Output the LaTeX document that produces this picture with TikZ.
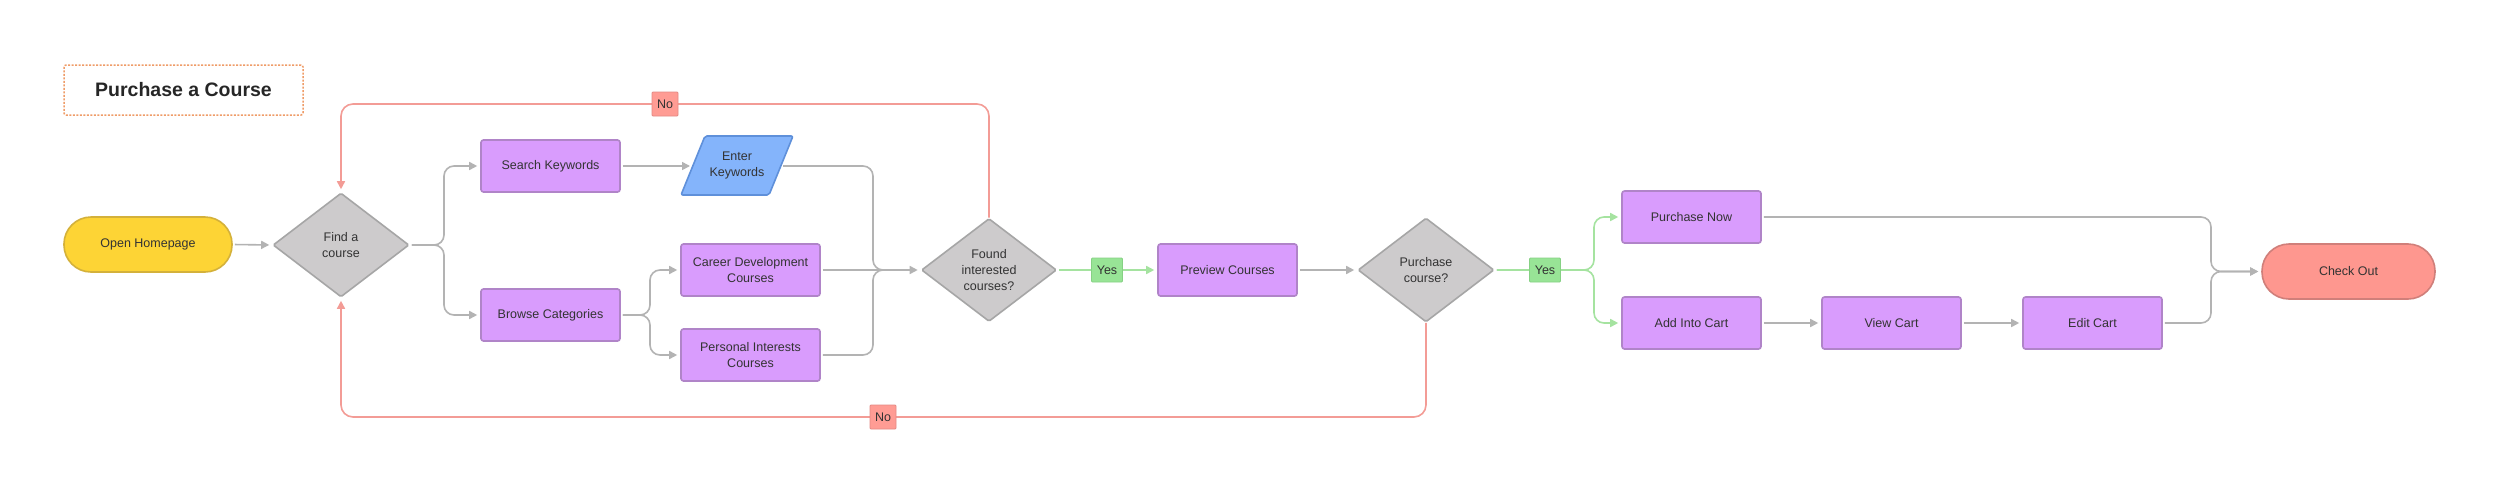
\documentclass[tikz,border=0pt]{standalone}
\usepackage{fontspec}
\setmainfont{Liberation Sans}
\usetikzlibrary{shapes.geometric,arrows.meta}
\definecolor{pfill}{HTML}{D99CFD}
\definecolor{pborder}{HTML}{B084C8}
\definecolor{dfill}{HTML}{CDCBCC}
\definecolor{dborder}{HTML}{A6A6A6}
\definecolor{yfill}{HTML}{FDD435}
\definecolor{yborder}{HTML}{D4B13A}
\definecolor{cfill}{HTML}{FE978F}
\definecolor{cborder}{HTML}{D07F7A}
\definecolor{bfill}{HTML}{84B4FB}
\definecolor{bborder}{HTML}{5F90DA}
\definecolor{lgray}{HTML}{B3B3B3}
\definecolor{lred}{HTML}{F39C96}
\definecolor{lgreen}{HTML}{A5E3A0}
\definecolor{gfill}{HTML}{98E496}
\definecolor{gborder}{HTML}{86D184}
\definecolor{rfill}{HTML}{FF9C94}
\definecolor{rborder}{HTML}{E38A84}
\definecolor{tborder}{HTML}{EF9C68}
\definecolor{txt}{HTML}{333333}
\begin{document}
\begin{tikzpicture}[x=1pt,y=-1pt,
  font=\fontsize{12.5}{16}\selectfont, text=txt,
  proc/.style={draw=pborder, fill=pfill, line width=1.6pt, rounded corners=2.5pt,
    minimum width=139pt, minimum height=52pt, inner sep=0pt, align=center},
  dec/.style={diamond, draw=dborder, fill=dfill, line width=1.6pt, rounded corners=1.5pt,
    minimum width=136pt, minimum height=104pt, inner sep=0pt, align=center},
  term/.style={draw=#1border, fill=#1fill, line width=1.6pt, rounded corners=27pt,
    minimum height=55pt, inner sep=0pt, align=center},
  lab/.style={draw=#1border, fill=#1fill, line width=0.8pt, rounded corners=1pt,
    minimum height=24pt, inner sep=0pt},
  conn/.style={line width=1.6pt, rounded corners=10pt, shorten >=3pt, shorten <=2pt,
    -{Triangle[length=8pt,width=8pt]}},
  gl/.style={conn, draw=lgray},
  gr/.style={conn, draw=lgreen},
  rl/.style={conn, draw=lred, rounded corners=12pt},
  plain/.style={line width=1.6pt, rounded corners=10pt, shorten <=2pt}
]
\useasboundingbox[fill=white] (0,0) rectangle (2500,493);

% title
\node[draw=tborder, line width=1.5pt, dash pattern=on 2pt off 1.5pt, rounded corners=2pt,
  minimum width=239pt, minimum height=50pt, inner sep=0pt,
  font=\bfseries\fontsize{19.5}{22}\selectfont, text=black!85] (title) at (183.5,90) {Purchase a Course};

% nodes
\node[term=y, minimum width=168pt] (oh) at (148,244.5) {Open Homepage};
\node[dec] (fd) at (341,245) {Find a\\course};
\node[proc] (sk) at (550.5,166) {Search Keywords};
\node[proc] (bc) at (550.5,315) {Browse Categories};
\draw[fill=bfill, draw=bborder, line width=1.6pt, rounded corners=2pt]
  (681,195) -- (705,136) -- (793,136) -- (769,195) -- cycle;
\node[align=center, inner sep=0pt] (ek) at (737,165.5) {Enter\\Keywords};
\coordinate (ekl) at (693,166);
\coordinate (ekr) at (781,166);
\node[proc] (cd) at (750.5,270) {Career Development\\Courses};
\node[proc] (pi) at (750.5,355) {Personal Interests\\Courses};
\node[dec, minimum width=135pt, minimum height=103pt] (fo) at (989,270) {Found\\interested\\courses?};
\node[proc] (pc) at (1227.5,270) {Preview Courses};
\node[dec] (pd) at (1426,270) {Purchase\\course?};
\node[proc] (pn) at (1691.5,217) {Purchase Now};
\node[proc] (ac) at (1691.5,323) {Add Into Cart};
\node[proc] (vc) at (1891.5,323) {View Cart};
\node[proc] (ec) at (2092.5,323) {Edit Cart};
\node[term=c, minimum width=173pt] (co) at (2348.5,271.5) {Check Out};

% gray connectors
\draw[gl] (oh.east) -- (fd.west);
\draw[gl] (fd.east) -- (444,245) |- (sk.west);
\draw[gl] (fd.east) -- (444,245) |- (bc.west);
\draw[gl] (sk.east) -- (ekl);
\draw[gl] (bc.east) -- (650,315) |- (cd.west);
\draw[gl] (bc.east) -- (650,315) |- (pi.west);
\draw[plain, draw=lgray] (ekr) -- (873,166) -- (873,270) -- ([xshift=-20pt]fo.west);
\draw[plain, draw=lgray] (pi.east) -- (873,355) -- (873,270) -- ([xshift=-20pt]fo.west);
\draw[gl] (cd.east) -- (fo.west);
\draw[gl] (pc.east) -- (pd.west);
\draw[gl] (ac.east) -- (vc.west);
\draw[gl] (vc.east) -- (ec.west);
\draw[gl] (pn.east) -- (2211,217) -- (2211,271.5) -- (co.west);
\draw[gl] (ec.east) -- (2211,323) -- (2211,271.5) -- (co.west);

% green connectors
\draw[gr] (fo.east) -- (pc.west);
\draw[gr] (pd.east) -- (1594,270) |- (pn.west);
\draw[gr] (pd.east) -- (1594,270) |- (ac.west);
\node[lab=g, minimum width=31pt] (y1) at (1107,270) {Yes};
\node[lab=g, minimum width=31pt] (y2) at (1545,270) {Yes};

% red connectors
\draw[rl, shorten <=0pt] (fo.north) -- (989,104) -- (341,104) -- (fd.north);
\draw[rl, shorten <=0pt] (pd.south) -- (1426,417) -- (341,417) -- (fd.south);
\node[lab=r, minimum width=26pt] (n1) at (665,104) {No};
\node[lab=r, minimum width=26pt] (n2) at (883,417) {No};
\end{tikzpicture}
\end{document}
